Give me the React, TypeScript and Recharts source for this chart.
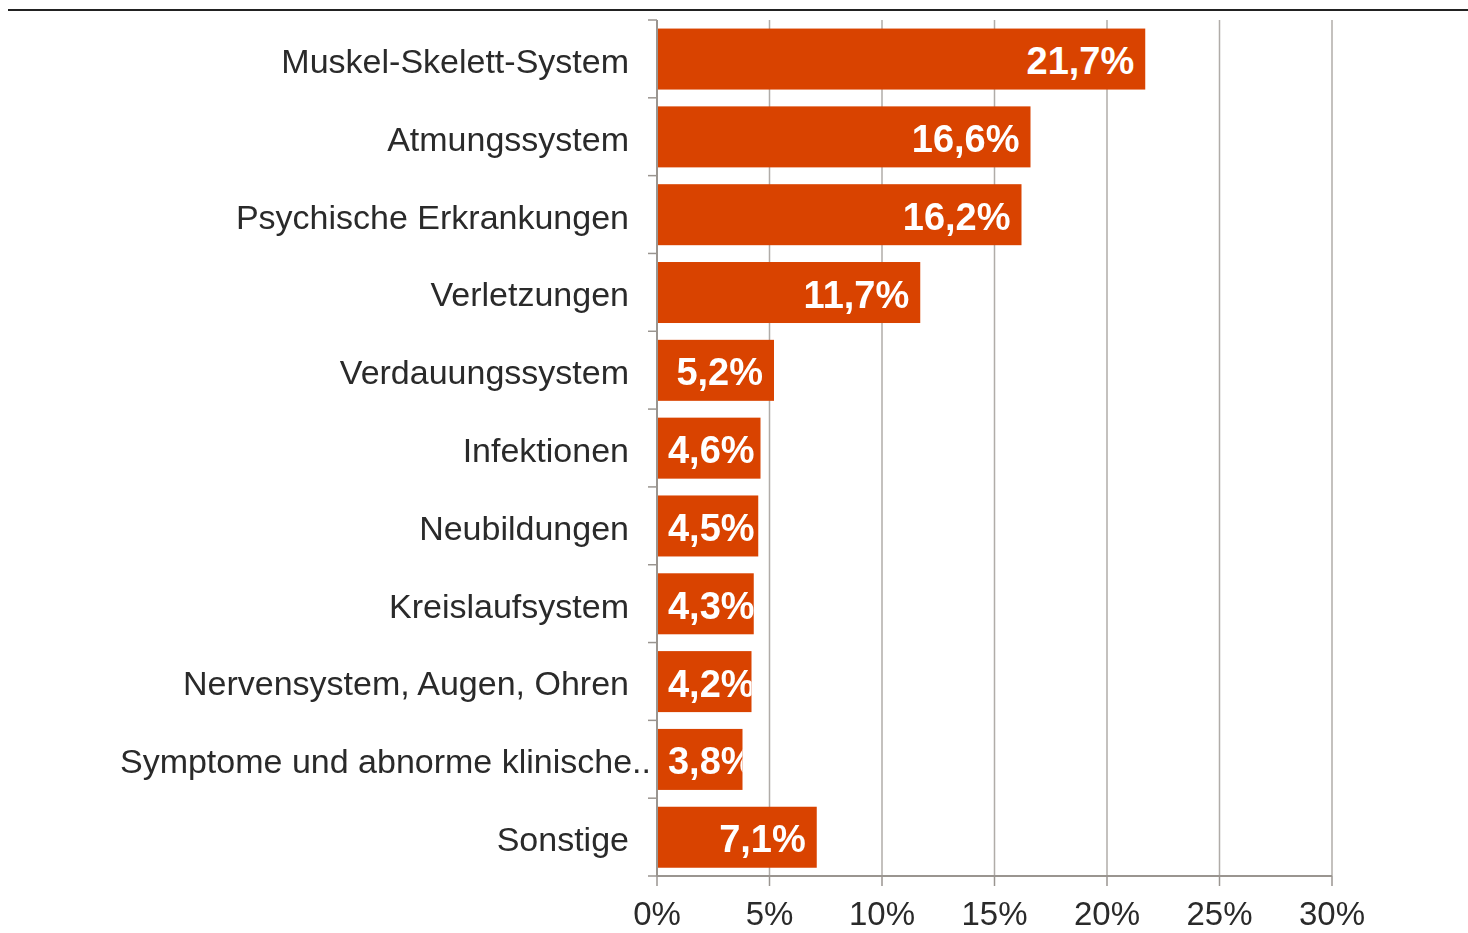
import React from "react";
import { BarChart, Bar, XAxis, YAxis, CartesianGrid } from "recharts";

const categories = [
  "Muskel-Skelett-System",
  "Atmungssystem",
  "Psychische Erkrankungen",
  "Verletzungen",
  "Verdauungssystem",
  "Infektionen",
  "Neubildungen",
  "Kreislaufsystem",
  "Nervensystem, Augen, Ohren",
  "Symptome und abnorme klinische..",
  "Sonstige",
];
const values = [21.7, 16.6, 16.2, 11.7, 5.2, 4.6, 4.5, 4.3, 4.2, 3.8, 7.1];
const xTicks = [0, 5, 10, 15, 20, 25, 30];

const data = categories.map((name, i) => ({ name, value: values[i] }));

const W = 1460;
const H = 925;
const MARGIN = { top: 12, right: 136, bottom: 0, left: 0 };
const Y_W = 649;
const X_H = 57;
const PLOT_H = H - MARGIN.top - MARGIN.bottom - X_H;
const BAND = PLOT_H / categories.length;
const FONT = "'Liberation Sans', Arial, Helvetica, sans-serif";
const BAR_COLOR = "#D94300";
const AXIS_COLOR = "#9a9590";
const TEXT_COLOR = "#2a2a2a";
const LABEL_SIZE = 38;
const TICK_MARGIN = 28;

const fmt = (v: number) => `${v.toFixed(1).replace(".", ",")}%`;
const charW = (c: string) => (c === "," ? 0.278 : c === "%" ? 0.889 : 0.556);
const textWidth = (s: string) => s.split("").reduce((a, c) => a + charW(c), 0) * LABEL_SIZE;

const BarShape = (props: any) => {
  const { x, y, width, height, payload, index } = props;
  const label = fmt(payload.value);
  const tw = textWidth(label);
  const pad = 11;
  const tx = Math.max(x + width - pad, x + pad + tw);
  const id = `clip-bar-${index}`;
  return (
    <g>
      <defs>
        <clipPath id={id}>
          <rect x={x} y={y} width={width} height={height} />
        </clipPath>
      </defs>
      <rect x={x} y={y} width={width} height={height} fill={BAR_COLOR} />
      <text
        x={tx}
        y={y + height / 2 + 2}
        textAnchor="end"
        dominantBaseline="central"
        fill="#ffffff"
        fontWeight="bold"
        fontSize={LABEL_SIZE}
        fontFamily={FONT}
        clipPath={`url(#${id})`}
      >
        {label}
      </text>
    </g>
  );
};

const YTick = (props: any) => {
  const { x, y, payload, index } = props;
  const ax = x + TICK_MARGIN;
  const truncated = String(payload.value).endsWith("..");
  return (
    <g>
      <line x1={ax - 9} x2={ax} y1={y - BAND / 2} y2={y - BAND / 2} stroke={AXIS_COLOR} strokeWidth={1.5} />
      {index === categories.length - 1 && (
        <line x1={ax - 9} x2={ax} y1={y + BAND / 2} y2={y + BAND / 2} stroke={AXIS_COLOR} strokeWidth={1.5} />
      )}
      <text
        x={truncated ? ax - 6 : x}
        y={y + 2}
        textAnchor="end"
        dominantBaseline="central"
        fill={TEXT_COLOR}
        fontSize={34}
        fontFamily={FONT}
      >
        {payload.value}
      </text>
    </g>
  );
};

export default function App() {
  return (
    <div style={{ position: "fixed", left: 8, top: 8, width: W, height: H }}>
      <div
        style={{
          position: "absolute",
          left: 0,
          top: 1,
          width: W,
          height: 2,
          background: "#222",
        }}
      />
      <BarChart
        width={W}
        height={H}
        data={data}
        layout="vertical"
        margin={MARGIN}
        barCategoryGap="11%"
      >
        <CartesianGrid horizontal={false} vertical={true} stroke="#b0aca8" strokeWidth={1.5} />
        <XAxis
          type="number"
          domain={[0, 30]}
          ticks={xTicks}
          tickFormatter={(v: number) => `${v}%`}
          height={X_H}
          tickSize={10}
          tickMargin={16}
          interval={0}
          axisLine={{ stroke: AXIS_COLOR, strokeWidth: 2 }}
          tickLine={{ stroke: AXIS_COLOR, strokeWidth: 1.5 }}
          tick={{ fill: TEXT_COLOR, fontSize: 33, fontFamily: FONT }}
        />
        <YAxis
          type="category"
          dataKey="name"
          width={Y_W}
          tickSize={0}
          tickMargin={TICK_MARGIN}
          interval={0}
          tickLine={false}
          axisLine={{ stroke: AXIS_COLOR, strokeWidth: 2 }}
          tick={<YTick />}
        />
        <Bar dataKey="value" isAnimationActive={false} shape={<BarShape />} />
      </BarChart>
    </div>
  );
}
